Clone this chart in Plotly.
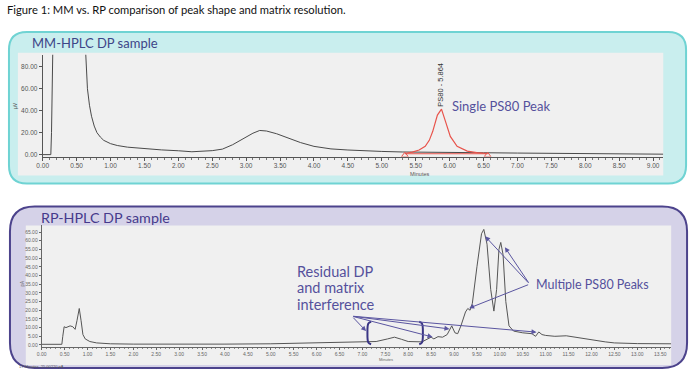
import plotly.graph_objects as go

W, H = 694, 379

# ---------------- data ----------------
# Top panel (MM-HPLC): main trace (minutes, µV)
mm_time = [0.00, 0.12, 0.13, 0.14, 0.15, 0.63, 0.64, 0.66, 0.69, 0.72, 0.76, 0.80, 0.85, 0.90,
           1.00, 1.10, 1.25, 1.50, 1.75, 2.00, 2.20, 2.50, 2.65, 2.80, 2.95, 3.10, 3.20, 3.30,
           3.45, 3.60, 3.80, 4.00, 4.25, 4.50, 4.75, 5.00, 5.30, 5.60, 6.00, 6.50, 7.00, 7.50,
           8.00, 8.50, 9.00, 9.15]
mm_signal = [0.0, 0.0, 20.0, 60.0, 98.0, 98.0, 80.0, 60.0, 45.0, 35.0, 26.0, 20.0, 16.0, 13.0,
             10.0, 8.3, 6.8, 5.4, 4.3, 3.5, 2.6, 3.6, 5.0, 9.0, 14.0, 19.5, 22.0, 21.5,
             19.0, 15.5, 11.0, 7.5, 5.2, 4.2, 3.4, 2.9, 2.4, 2.1, 1.9, 1.7, 1.4, 1.1,
             0.8, 0.6, 0.4, 0.4]
# Integrated PS80 peak (red)
ps80_time = [5.34, 5.45, 5.55, 5.64, 5.70, 5.75, 5.82, 5.88, 5.94, 6.01, 6.11, 6.26, 6.40, 6.56]
ps80_signal = [1.0, 2.2, 4.2, 7.5, 13.0, 21.0, 36.0, 41.5, 30.0, 16.6, 7.5, 3.2, 1.8, 1.0]
ps80_marks_time = [5.34, 6.56]
ps80_marks_signal = [-0.6, -0.6]
ps80_base_signal = [0.8, 0.8]
ps80_label = "PS80 - 5.864"
ps80_rt = 5.864

# Bottom panel (RP-HPLC): trace (minutes, pA)
rp_time = [0.00, 0.44, 0.46, 0.49, 0.53, 0.56, 0.62, 0.68, 0.73, 0.77, 0.82, 0.86, 0.90, 0.95,
           1.05, 1.20, 1.50, 2.00, 3.00, 4.00, 5.00, 5.50, 6.00, 6.50, 7.00, 7.30, 7.55, 7.70,
           7.85, 8.00, 8.30, 8.42, 8.50, 8.56, 8.65, 8.75, 8.85, 8.95, 9.02, 9.08, 9.15, 9.25,
           9.30, 9.35, 9.40, 9.50, 9.60, 9.65, 9.72, 9.80, 9.87, 9.93, 9.98, 10.02, 10.07, 10.13,
           10.20, 10.30, 10.50, 10.70, 10.78, 10.85, 10.92, 11.00, 11.20, 11.45, 11.80, 12.00,
           12.30, 12.50, 13.00, 13.74]
rp_signal = [0.4, 0.4, 5.0, 10.5, 10.0, 10.3, 11.0, 10.5, 9.0, 14.0, 21.0, 14.0, 6.0, 3.5,
             2.0, 1.2, 0.7, 0.5, 0.4, 0.5, 0.7, 0.9, 1.2, 1.6, 1.8, 2.0, 3.5, 4.5,
             3.3, 2.0, 1.8, 3.5, 4.5, 3.5, 4.8, 4.5, 6.0, 11.0, 7.0, 6.5, 11.0, 19.0,
             21.0, 20.0, 24.0, 45.0, 64.0, 66.5, 58.0, 32.0, 19.5, 32.0, 55.0, 59.0, 52.0, 25.0,
             11.0, 8.0, 7.0, 6.5, 5.0, 7.5, 6.0, 5.5, 5.0, 5.3, 3.8, 2.8,
             1.8, 1.2, 0.8, 0.7]

# Annotation arrows on the RP panel: (tail, head) in minutes / pA
multi_tail = (10.65, 35.0)
multi_heads_t = [9.68, 10.11, 9.33]
multi_heads_s = [62.5, 56.2, 21.2]
resid_tail = (6.77, 16.6)
resid_heads_t = [7.08, 8.53, 8.90, 10.80]
resid_heads_s = [8.0, 4.6, 9.2, 7.4]
bracket_left_t = [7.19, 7.13, 7.11, 7.13, 7.19]
bracket_right_t = [8.24, 8.30, 8.32, 8.30, 8.24]
bracket_s = [13.4, 12.4, 7.0, 1.4, 0.4]

mm_xticks = [i * 0.5 for i in range(19)]
mm_yticks = [0, 20, 40, 60, 80]
rp_xticks = [i * 0.5 for i in range(28)]
rp_yticks = [i * 5 for i in range(14)]

residual_lines = ["Residual DP", "and matrix", "interference"]

# ---------------- helpers ----------------
def px(x):
    return x / W

def py(y):
    return 1 - y / H

def rrect(x0, y0, x1, y1, r):
    pts = [
        ("M", [(x0 + r, y0)]), ("L", [(x1 - r, y0)]), ("Q", [(x1, y0), (x1, y0 + r)]),
        ("L", [(x1, y1 - r)]), ("Q", [(x1, y1), (x1 - r, y1)]), ("L", [(x0 + r, y1)]),
        ("Q", [(x0, y1), (x0, y1 - r)]), ("L", [(x0, y0 + r)]), ("Q", [(x0, y0), (x0 + r, y0)]),
    ]
    s = ""
    for cmd, ps in pts:
        s += cmd + " " + " ".join(f"{px(a):.5f},{py(b):.5f}" for a, b in ps) + " "
    return s + "Z"

TEXT_PURPLE = "#55509c"
TITLE_BLUE = "#3d4588"
LINE_GRAY = "#4a4a4a"

fig = go.Figure()

# top traces
fig.add_trace(go.Scatter(x=mm_time, y=mm_signal, mode="lines",
                         line=dict(color=LINE_GRAY, width=1), xaxis="x", yaxis="y"))
fig.add_trace(go.Scatter(x=ps80_marks_time, y=ps80_base_signal, mode="lines",
                         line=dict(color="#e8544c", width=1), xaxis="x", yaxis="y"))
fig.add_trace(go.Scatter(x=ps80_time, y=ps80_signal, mode="lines",
                         line=dict(color="#e8544c", width=1.2), xaxis="x", yaxis="y"))
fig.add_trace(go.Scatter(x=ps80_marks_time, y=ps80_marks_signal, mode="markers",
                         marker=dict(symbol="triangle-up-open", color="#e8544c", size=6,
                                     line=dict(width=1)),
                         xaxis="x", yaxis="y"))

# bottom traces
fig.add_trace(go.Scatter(x=rp_time, y=rp_signal, mode="lines",
                         line=dict(color="#555555", width=1), xaxis="x2", yaxis="y2"))
for bt in (bracket_left_t, bracket_right_t):
    fig.add_trace(go.Scatter(x=bt, y=bracket_s, mode="lines", line_shape="spline",
                             line=dict(color="#3a3585", width=2), xaxis="x2", yaxis="y2"))

tick_font_top = dict(family="Liberation Sans", size=6.5, color="#555")
tick_font_bot = dict(family="Liberation Sans", size=5, color="#666")

fig.update_layout(
    width=W, height=H, margin=dict(l=0, r=0, t=0, b=0),
    paper_bgcolor="white", plot_bgcolor="rgba(0,0,0,0)", showlegend=False,
    xaxis=dict(domain=[px(37), px(663)], range=[0, 9.15], tickvals=mm_xticks,
               ticktext=[f"{v:.2f}" for v in mm_xticks], tickfont=tick_font_top,
               showgrid=False, zeroline=False, showline=True, linecolor="#555", linewidth=1,
               ticks="outside", ticklen=3, tickcolor="#555",
               minor=dict(dtick=0.1, ticks="outside", ticklen=2, tickcolor="#777"),
               anchor="y"),
    yaxis=dict(domain=[py(157), py(55)], range=[-1.8, 90.9], tickvals=mm_yticks,
               ticktext=[f"{v:.2f}" for v in mm_yticks], tickfont=tick_font_top,
               showgrid=False, zeroline=False, showline=True, linecolor="#555", linewidth=1,
               ticks="outside", ticklen=3, tickcolor="#555", anchor="x"),
    xaxis2=dict(domain=[px(36), px(671)], range=[0, 13.74], tickvals=rp_xticks,
                ticktext=[f"{v:.2f}" for v in rp_xticks], tickfont=tick_font_bot,
                showgrid=False, zeroline=False, showline=True, linecolor="#666", linewidth=1,
                ticks="outside", ticklen=1.5, tickcolor="#666",
                minor=dict(dtick=0.1, ticks="outside", ticklen=1, tickcolor="#888"),
                anchor="y2"),
    yaxis2=dict(domain=[py(348), py(226)], range=[-1.2, 68.8], tickvals=rp_yticks,
                ticktext=[f"{v:.2f}" for v in rp_yticks], tickfont=tick_font_bot,
                showgrid=False, zeroline=False, showline=True, linecolor="#666", linewidth=1,
                ticks="outside", ticklen=2, tickcolor="#666", anchor="x2"),
)

shapes = [
    dict(type="path", xref="paper", yref="paper", layer="below", path=rrect(3, 32, 686, 184, 18),
         fillcolor="#c9eeee", line=dict(color="#6fd3d3", width=2)),
    dict(type="rect", xref="paper", yref="paper", layer="below",
         x0=px(12), x1=px(663), y0=py(176), y1=py(53), fillcolor="#f0f0f0", line=dict(width=0)),
    dict(type="path", xref="paper", yref="paper", layer="below", path=rrect(4, 207, 687, 369, 25),
         fillcolor="#d5d2e8", line=dict(color="#4c438c", width=2)),
    dict(type="rect", xref="paper", yref="paper", layer="below",
         x0=px(20), x1=px(671), y0=py(366), y1=py(226), fillcolor="#f0f0f0", line=dict(width=0)),
]
fig.update_layout(shapes=shapes)

ann = []
ann.append(dict(text="Figure 1: MM vs. RP comparison of peak shape and matrix resolution.",
                xref="paper", yref="paper", x=px(-1), y=py(10), xanchor="left", yanchor="middle",
                showarrow=False, font=dict(family="Lato", size=11.2, color="#111")))
ann.append(dict(text="MM-HPLC DP sample", xref="paper", yref="paper", x=px(24), y=py(43),
                xanchor="left", yanchor="middle", showarrow=False,
                font=dict(family="Lato", size=13, color=TITLE_BLUE)))
ann.append(dict(text="RP-HPLC DP sample", xref="paper", yref="paper", x=px(33), y=py(218),
                xanchor="left", yanchor="middle", showarrow=False,
                font=dict(family="Lato", size=14.3, color="#463a8c")))
ann.append(dict(text="Single PS80 Peak", xref="paper", yref="paper", x=px(448), y=py(106),
                xanchor="left", yanchor="middle", showarrow=False,
                font=dict(family="Lato", size=13, color=TEXT_PURPLE)))
ann.append(dict(text=ps80_label, xref="x", yref="y", x=ps80_rt, y=64, textangle=-90,
                xanchor="center", yanchor="middle", showarrow=False,
                font=dict(family="Liberation Sans", size=7.5, color="#333")))
ann.append(dict(text="Minutes", xref="paper", yref="paper", x=px(418), y=py(174),
                showarrow=False, font=dict(family="Liberation Sans", size=5.5, color="#555")))
ann.append(dict(text="µV", xref="paper", yref="paper", x=px(14), y=py(100), textangle=-90,
                xanchor="right", showarrow=False,
                font=dict(family="Liberation Sans", size=5, color="#555")))
ann.append(dict(text="Minutes", xref="paper", yref="paper", x=px(383), y=py(364.5),
                showarrow=False, font=dict(family="Liberation Sans", size=4, color="#666")))
ann.append(dict(text="pA", xref="paper", yref="paper", x=px(21), y=py(289), textangle=-90,
                xanchor="right", showarrow=False,
                font=dict(family="Liberation Sans", size=4.5, color="#666")))
ann.append(dict(text="17 Minutes, 25.00220 pA", xref="paper", yref="paper", x=px(11), y=py(363),
                xanchor="left", yanchor="top", showarrow=False,
                font=dict(family="Liberation Sans", size=4, color="#555")))
for i, line in enumerate(residual_lines):
    ann.append(dict(text=line, xref="paper", yref="paper", x=px(292), y=py(272 + 16.5 * i),
                    xanchor="left", yanchor="middle", showarrow=False,
                    font=dict(family="Lato", size=14.5, color=TEXT_PURPLE)))
ann.append(dict(text="Multiple PS80 Peaks", xref="paper", yref="paper", x=px(533), y=py(285),
                xanchor="left", yanchor="middle", showarrow=False,
                font=dict(family="Lato", size=12.5, color=TEXT_PURPLE)))
for ht, hs in zip(multi_heads_t, multi_heads_s):
    ann.append(dict(text="", xref="x2", yref="y2", axref="x2", ayref="y2", x=ht, y=hs,
                    ax=multi_tail[0], ay=multi_tail[1], showarrow=True, arrowhead=2,
                    arrowsize=1, arrowwidth=1, arrowcolor="#5a55a0"))
for ht, hs in zip(resid_heads_t, resid_heads_s):
    ann.append(dict(text="", xref="x2", yref="y2", axref="x2", ayref="y2", x=ht, y=hs,
                    ax=resid_tail[0], ay=resid_tail[1], showarrow=True, arrowhead=2,
                    arrowsize=1, arrowwidth=1, arrowcolor="#5a55a0"))
fig.update_layout(annotations=ann)

fig.write_html("out.html", config={"displayModeBar": False},
               post_script="document.body.style.margin='0';document.body.style.overflow='hidden';")
